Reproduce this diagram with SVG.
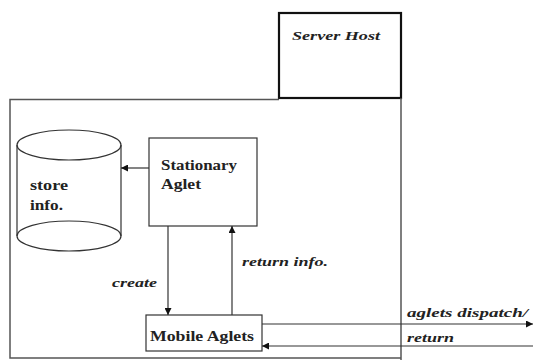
<svg xmlns="http://www.w3.org/2000/svg" width="533" height="360" viewBox="0 0 533 360">
<style>
.box{fill:none;stroke:#333;stroke-width:1.2}
.thick{fill:none;stroke:#111;stroke-width:2.2}
.outer{fill:none;stroke:#555;stroke-width:1.5}
.ln{fill:none;stroke:#333;stroke-width:1.2}
.t{font-family:"Liberation Serif",serif;font-weight:bold;font-size:14px;fill:#222}
.it{font-family:"Liberation Serif",serif;font-style:italic;font-weight:bold;font-size:12px;fill:#222}
</style>
<defs>
<marker id="ah" viewBox="0 0 10 10" refX="10" refY="5" markerWidth="7" markerHeight="7" markerUnits="userSpaceOnUse" orient="auto">
<path d="M0,0 L10,5 L0,10 z" fill="#111"/>
</marker>
</defs>
<rect width="533" height="360" fill="#fff"/>
<g id="server-host">
<rect class="thick" x="279" y="13" width="122" height="85"/>
<text class="it" x="292" y="40" textLength="88" lengthAdjust="spacingAndGlyphs">Server Host</text>
</g>
<g id="host-area">
<polyline class="outer" points="401,98 401,360"/>
<polyline class="outer" points="279,99.5 10,99.5 10,358 401,358"/>
</g>
<g id="store">
<path class="box" d="M17,145 L17,236 M121,145 L121,236"/>
<ellipse class="box" cx="69" cy="145" rx="52" ry="15"/>
<ellipse class="box" cx="69" cy="236" rx="52" ry="15"/>
<text class="t" x="30" y="190" textLength="38" lengthAdjust="spacingAndGlyphs">store</text>
<text class="t" x="30" y="210" textLength="33" lengthAdjust="spacingAndGlyphs">info.</text>
</g>
<g id="stationary">
<rect class="box" x="149" y="138" width="108" height="88"/>
<text class="t" x="161" y="170" textLength="76" lengthAdjust="spacingAndGlyphs">Stationary</text>
<text class="t" x="161" y="189" textLength="40" lengthAdjust="spacingAndGlyphs">Aglet</text>
</g>
<g id="mobile">
<rect class="box" x="146" y="315" width="116" height="36"/>
<text class="t" x="150" y="341" textLength="104" lengthAdjust="spacingAndGlyphs">Mobile Aglets</text>
</g>
<g id="connectors">
<line class="ln" x1="149" y1="168" x2="121" y2="168" marker-end="url(#ah)"/>
<line class="ln" x1="168" y1="226" x2="168" y2="315" marker-end="url(#ah)"/>
<line class="ln" x1="232" y1="315" x2="232" y2="226" marker-end="url(#ah)"/>
<line class="ln" x1="262" y1="324" x2="533" y2="324" marker-end="url(#ah)"/>
<line class="ln" x1="533" y1="346" x2="262" y2="346" marker-end="url(#ah)"/>
</g>
<g id="labels">
<text class="it" x="112" y="287" textLength="45" lengthAdjust="spacingAndGlyphs">create</text>
<text class="it" x="242" y="266" textLength="86" lengthAdjust="spacingAndGlyphs">return info.</text>
<text class="it" x="407" y="317" textLength="121" lengthAdjust="spacingAndGlyphs">aglets dispatch/</text>
<text class="it" x="407" y="342" textLength="47" lengthAdjust="spacingAndGlyphs">return</text>
</g>
</svg>
